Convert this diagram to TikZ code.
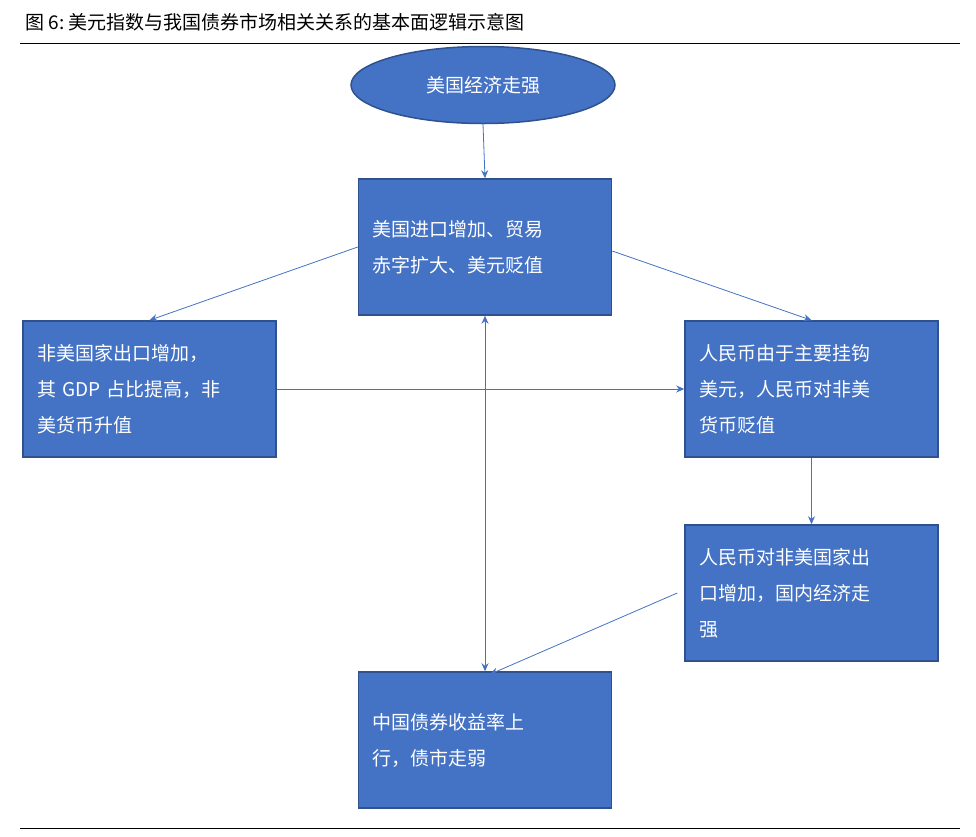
\documentclass[tikz,border=0pt]{standalone}
\usepackage{fontspec}
\setmainfont{Noto Sans CJK SC}
\usetikzlibrary{shapes.geometric,arrows.meta}
\definecolor{bfill}{HTML}{4472C4}
\definecolor{bdraw}{HTML}{2F528F}
\begin{document}
\begin{tikzpicture}[x=1pt,y=-1pt,
 bx/.style={draw=bdraw,line width=1.5pt,fill=bfill,text=white,minimum width=253pt,minimum height=136pt,text width=225pt,align=left,font=\fontsize{19}{36}\selectfont,inner sep=0pt},
 ar/.style={draw=bfill,line width=0.8pt,-{Stealth[length=8pt,width=7pt]}}]
\useasboundingbox (0,0) rectangle (976,836);
\node[anchor=west,font=\fontsize{19}{22}\selectfont] (t) at (22,22) {图 6:\ 美元指数与我国债券市场相关关系的基本面逻辑示意图};
\draw[line width=0.8pt] (20,43) -- (960,43);
\draw[line width=0.8pt] (20,828) -- (960,828);
\node[ellipse,draw=bdraw,line width=1.5pt,fill=bfill,text=white,minimum width=264pt,minimum height=77pt,font=\fontsize{19}{22}\selectfont] (e) at (483,85) {美国经济走强};
\node[bx] (b1) at (485,247) {美国进口增加、贸易\\赤字扩大、美元贬值};
\node[bx] (l) at (149.5,389) {非美国家出口增加，\\其 GDP 占比提高，非\\美货币升值};
\node[bx] (r) at (811.5,389) {人民币由于主要挂钩\\美元，人民币对非美\\货币贬值};
\node[bx] (r2) at (811.5,593) {人民币对非美国家出\\口增加，国内经济走\\强};
\node[bx] (b) at (485,740) {中国债券收益率上\\行，债市走弱};
\draw[ar] (e.south) -- (b1.north);
\draw[ar] (b1.west) -- (l.north);
\draw[ar] ([yshift=-4pt]b1.east) -- (r.north);
\draw[ar] (l.east) -- (r.west);
\draw[ar] (r.south) -- (r2.north);
\draw[ar] ([xshift=-7pt]r2.west) -- ([xshift=5pt,yshift=-3pt]b.north);
\draw[ar,{Stealth[length=8pt,width=7pt]}-{Stealth[length=8pt,width=7pt]}] (b1.south) -- (b.north);
\end{tikzpicture}
\end{document}
